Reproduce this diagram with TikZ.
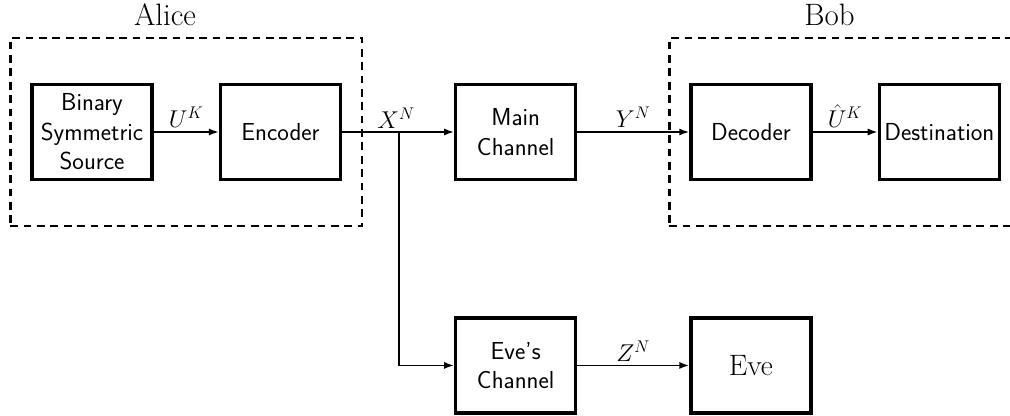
\documentclass[tikz,border=0pt]{standalone}
\usepackage{tikz}
\usetikzlibrary{arrows.meta,calc,positioning,fit}
\tikzset{
  caja/.style={
    draw=black,
    line width=2.3pt,
    align=center,
    minimum width=3cm,
    minimum height=2.375cm,
    inner sep=1pt,
    font=\sffamily\fontsize{17.5}{21}\selectfont
  },
  grupo/.style={
    draw=black,
    line width=1.8pt,
    dash pattern=on 5.5pt off 4pt,
    inner xsep=0.5cm,
    inner ysep=1.12cm
  },
  nombre/.style={
    inner sep=1pt,
    font=\fontsize{22}{26}\selectfont
  },
  senal/.style={
    above,
    inner sep=2.5pt,
    font=\fontsize{18}{21}\selectfont
  },
  arrow/.style={
    -{Latex[length=2.5mm,width=1.8mm]},
    line width=1.3pt
  }
}

\begin{document}
\begin{tikzpicture}[node distance=2.8cm]
\useasboundingbox (0,0) rectangle (25.25,-10.4);
% fila principal
\node[caja] (src) at (2.3,-3.3) {Binary\\Symmetric\\Source};
\node[caja, right=1.63cm of src] (enc) {Encoder};
\coordinate[right=1.42cm of enc] (split);
\node[caja, right=of enc] (main) {Main\\Channel};
\node[caja, right=of main] (dec) {Decoder};
\node[caja, right=1.63cm of dec] (dest) {Destination};
% rama de Eve
\node[caja, below=3.38cm of main] (evech) {Eve's\\Channel};
\node[caja, right=of evech, font=\fontsize{21}{25}\selectfont] (eve) {Eve};
% grupos
\node[grupo, fit=(src)(enc)] (alicebox) {};
\node[grupo, fit=(dec)(dest)] (bobbox) {};
\node[nombre] (alice) at ($(alicebox.north)+(-0.53,0.56)$) {Alice};
\node[nombre] (bob) at ($(bobbox.north)+(-0.39,0.56)$) {Bob};
% conexiones
\draw[arrow] (src) -- node[senal] {$U^K$} (enc);
\draw[arrow] (enc) -- (main);
\node[senal, xshift=-2pt] (xn) at (split) {$X^N$};
\draw[arrow] (main) -- node[senal] {$Y^N$} (dec);
\draw[arrow] (dec) -- node[senal] {$\hat{U}^K$} (dest);
\draw[arrow] (split) |- (evech);
\draw[arrow] (evech) -- node[senal] {$Z^N$} (eve);
\end{tikzpicture}
\end{document}
